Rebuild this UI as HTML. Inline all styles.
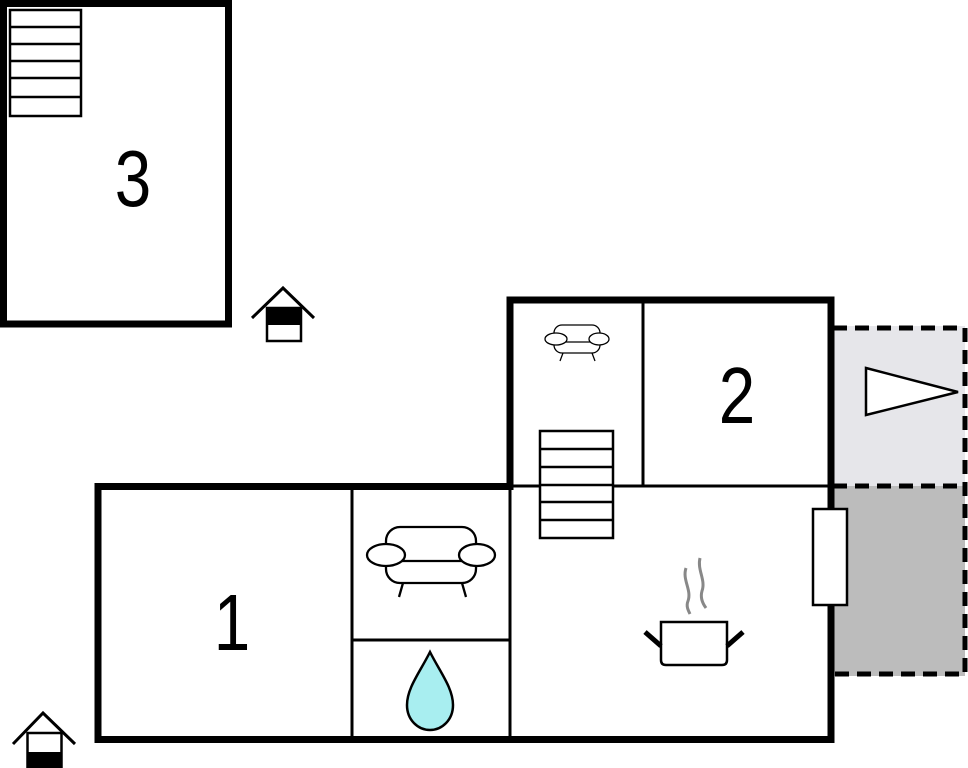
<!DOCTYPE html>
<html><head><style>html,body{margin:0;padding:0;background:#fff}</style></head><body>
<svg width="968" height="768" viewBox="0 0 968 768" xmlns="http://www.w3.org/2000/svg" style="display:block">
<g fill="none" stroke="#000">
<rect x="3.5" y="3.5" width="225" height="320.5" stroke-width="7"/>
<g stroke-width="2.5">
<rect x="10" y="10" width="71" height="106"/>
<line x1="10" y1="27" x2="81" y2="27"/><line x1="10" y1="44" x2="81" y2="44"/>
<line x1="10" y1="61" x2="81" y2="61"/><line x1="10" y1="78" x2="81" y2="78"/>
<line x1="10" y1="97" x2="81" y2="97"/>
</g>
<rect x="833" y="326" width="132" height="160" fill="#e6e6ea" stroke="none"/>
<rect x="833" y="486" width="132" height="190" fill="#bcbcbc" stroke="none"/>
<path d="M833 328 H965 V674 H833 M833 486 H965" stroke-width="5" stroke-dasharray="14 8"/>
<polygon points="866,368 958,392 866,415" fill="#fff" stroke-width="2.5"/>
<path d="M98 739.5 V486.5 H510 V300 H831 V739.5 Z" stroke-width="7" fill="#fff"/>
<g stroke-width="3">
<line x1="510" y1="486" x2="831" y2="486"/>
<line x1="643" y1="300" x2="643" y2="486"/>
<line x1="352" y1="486" x2="352" y2="739"/>
<line x1="510" y1="486" x2="510" y2="739"/>
<line x1="352" y1="640" x2="510" y2="640"/>
</g>
<rect x="813" y="509" width="34" height="96" fill="#fff" stroke-width="2.5"/>
<g stroke-width="2.5">
<rect x="540" y="431" width="73" height="107" fill="#fff"/>
<line x1="540" y1="449" x2="613" y2="449"/><line x1="540" y1="467" x2="613" y2="467"/>
<line x1="540" y1="485" x2="613" y2="485"/><line x1="540" y1="502" x2="613" y2="502"/>
<line x1="540" y1="520" x2="613" y2="520"/>
</g>
<g stroke-width="1.3">
<rect x="554" y="325" width="46" height="28" rx="8"/>
<line x1="560" y1="342" x2="594" y2="342"/>
<ellipse cx="556" cy="339" rx="11" ry="6" fill="#fff"/>
<ellipse cx="599" cy="339" rx="10" ry="6" fill="#fff"/>
<line x1="563" y1="353" x2="560" y2="361"/><line x1="592" y1="353" x2="595" y2="361"/>
</g>
<g stroke-width="2.3">
<rect x="386" y="527" width="90" height="56" rx="14" fill="#fff"/>
<line x1="400" y1="561" x2="462" y2="561"/>
<ellipse cx="386" cy="555" rx="19" ry="11" fill="#fff"/>
<ellipse cx="477" cy="555" rx="18" ry="11" fill="#fff"/>
<line x1="403" y1="583" x2="399" y2="597"/><line x1="462" y1="583" x2="466" y2="597"/>
</g>
<path d="M430 652 C420 672 407 688 407 705 C407 720 418 730 430 730 C442 730 453 720 453 705 C453 688 440 672 430 652 Z" fill="#a8eef0" stroke-width="2.5"/>
<path d="M661 622 H727 V660 Q727 665 722 665 H666 Q661 665 661 660 Z" fill="#fff" stroke-width="2.5"/>
<g stroke-width="5">
<line x1="645" y1="632" x2="661" y2="646"/><line x1="727" y1="646" x2="743" y2="632"/>
</g>
<g stroke="#888" stroke-width="3">
<path d="M686 568 C682 580 692 590 688 601 C686 606 688 610 690 614"/>
<path d="M700 558 C697 570 706 580 702 591 C700 598 703 604 706 608"/>
</g>
<polyline points="252,318 283,288 314,318" stroke-width="3"/>
<rect x="267" y="308" width="34" height="33" fill="#fff" stroke-width="2.5"/>
<rect x="267" y="308" width="34" height="17" fill="#000" stroke="none"/>
<polyline points="13,744 43,713 75,744" stroke-width="3"/>
<rect x="27.5" y="733" width="34" height="40" fill="#fff" stroke-width="2.5"/>
<rect x="27" y="752" width="35" height="16" fill="#000" stroke="none"/>
</g>
<g font-family="Liberation Sans, sans-serif" font-size="80" fill="#000" text-anchor="middle">
<text transform="translate(133 206) scale(0.82 1)">3</text>
<text transform="translate(232 650) scale(0.82 1)">1</text>
<text transform="translate(737 423) scale(0.82 1)">2</text>
</g>
</svg>
</body></html>
